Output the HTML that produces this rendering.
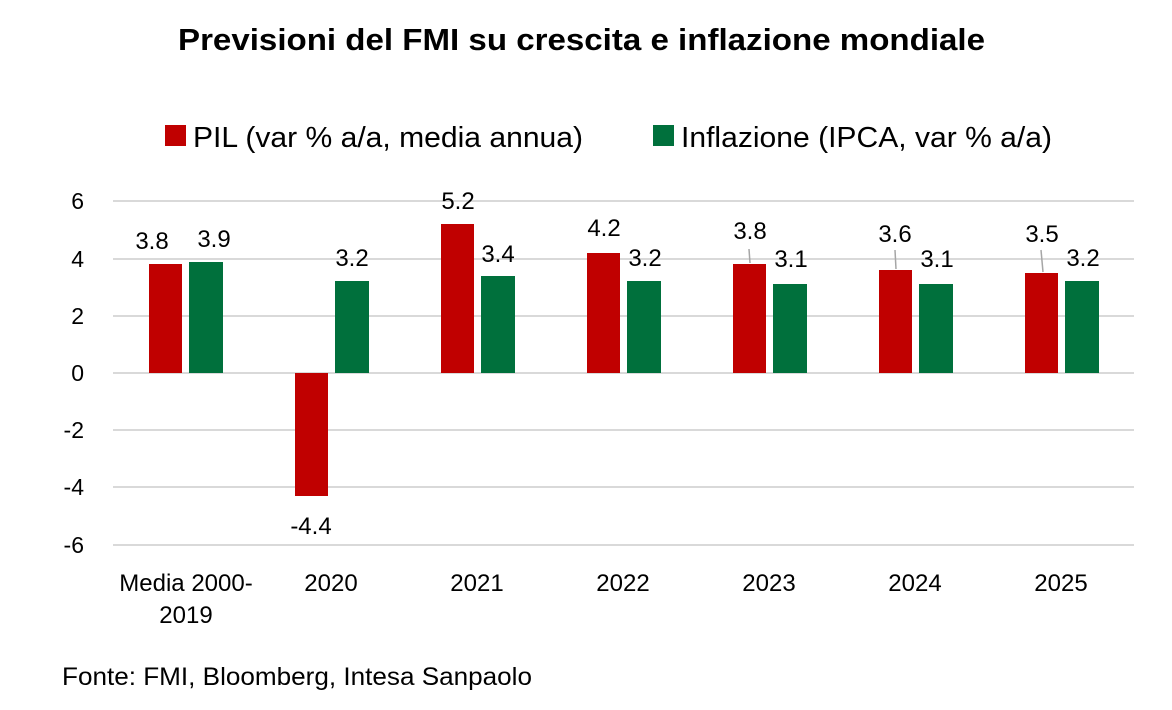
<!DOCTYPE html>
<html><head><meta charset="utf-8"><style>
html,body{margin:0;padding:0;background:#fff;}
svg{display:block;font-family:"Liberation Sans",sans-serif;}
</style></head><body>
<svg width="1172" height="710" viewBox="0 0 1172 710" xmlns="http://www.w3.org/2000/svg">
<text x="178" y="50" font-size="31" font-weight="bold" fill="#000" textLength="807" lengthAdjust="spacingAndGlyphs">Previsioni del FMI su crescita e inflazione mondiale</text>
<rect x="165" y="125" width="21" height="21" fill="#c00000"/>
<text x="193" y="147" font-size="29" fill="#000" textLength="390" lengthAdjust="spacingAndGlyphs">PIL (var % a/a, media annua)</text>
<rect x="653" y="125" width="21" height="21" fill="#00703c"/>
<text x="681" y="147" font-size="29" fill="#000" textLength="371" lengthAdjust="spacingAndGlyphs">Inflazione (IPCA, var % a/a)</text>
<g stroke="#d9d9d9" stroke-width="2">
<line x1="113" x2="1134" y1="201" y2="201"/><line x1="113" x2="1134" y1="259" y2="259"/>
<line x1="113" x2="1134" y1="316" y2="316"/><line x1="113" x2="1134" y1="373" y2="373"/>
<line x1="113" x2="1134" y1="430" y2="430"/><line x1="113" x2="1134" y1="487" y2="487"/>
<line x1="113" x2="1134" y1="545" y2="545"/>
</g>
<g font-size="23" fill="#000" text-anchor="end">
<text x="84" y="209">6</text><text x="84" y="267">4</text><text x="84" y="324">2</text>
<text x="84" y="381">0</text><text x="84" y="438">-2</text><text x="84" y="495">-4</text><text x="84" y="553">-6</text>
</g>
<g fill="#c00000">
<rect x="149" y="264" width="33" height="109"/>
<rect x="295" y="373" width="33" height="123"/>
<rect x="441" y="224" width="33" height="149"/>
<rect x="587" y="253" width="33" height="120"/>
<rect x="733" y="264" width="33" height="109"/>
<rect x="879" y="270" width="33" height="103"/>
<rect x="1025" y="273" width="33" height="100"/>
</g>
<g fill="#00703c">
<rect x="189" y="262" width="34" height="111"/>
<rect x="335" y="281" width="34" height="92"/>
<rect x="481" y="276" width="34" height="97"/>
<rect x="627" y="281" width="34" height="92"/>
<rect x="773" y="284" width="34" height="89"/>
<rect x="919" y="284" width="34" height="89"/>
<rect x="1065" y="281" width="34" height="92"/>
</g>
<g stroke="#a6a6a6" stroke-width="1.5">
<line x1="749" y1="249" x2="750" y2="263"/>
<line x1="895" y1="250" x2="896" y2="269"/>
<line x1="1041" y1="250" x2="1043" y2="272"/>
</g>
<g font-size="24" fill="#000" text-anchor="middle">
<text x="152" y="249">3.8</text><text x="214" y="247">3.9</text>
<text x="311" y="534">-4.4</text><text x="352" y="266">3.2</text>
<text x="458" y="209">5.2</text><text x="498" y="262">3.4</text>
<text x="604" y="236">4.2</text><text x="645" y="266">3.2</text>
<text x="750" y="239">3.8</text><text x="791" y="267">3.1</text>
<text x="895" y="242">3.6</text><text x="937" y="267">3.1</text>
<text x="1042" y="242">3.5</text><text x="1083" y="266">3.2</text>
</g>
<g font-size="24" fill="#000" text-anchor="middle">
<text x="186" y="591">Media 2000-</text><text x="186" y="623">2019</text>
<text x="331" y="591">2020</text><text x="477" y="591">2021</text><text x="623" y="591">2022</text>
<text x="769" y="591">2023</text><text x="915" y="591">2024</text><text x="1061" y="591">2025</text>
</g>
<text x="62" y="685" font-size="25" fill="#000" textLength="470" lengthAdjust="spacingAndGlyphs">Fonte: FMI, Bloomberg, Intesa Sanpaolo</text>
</svg>
</body></html>
